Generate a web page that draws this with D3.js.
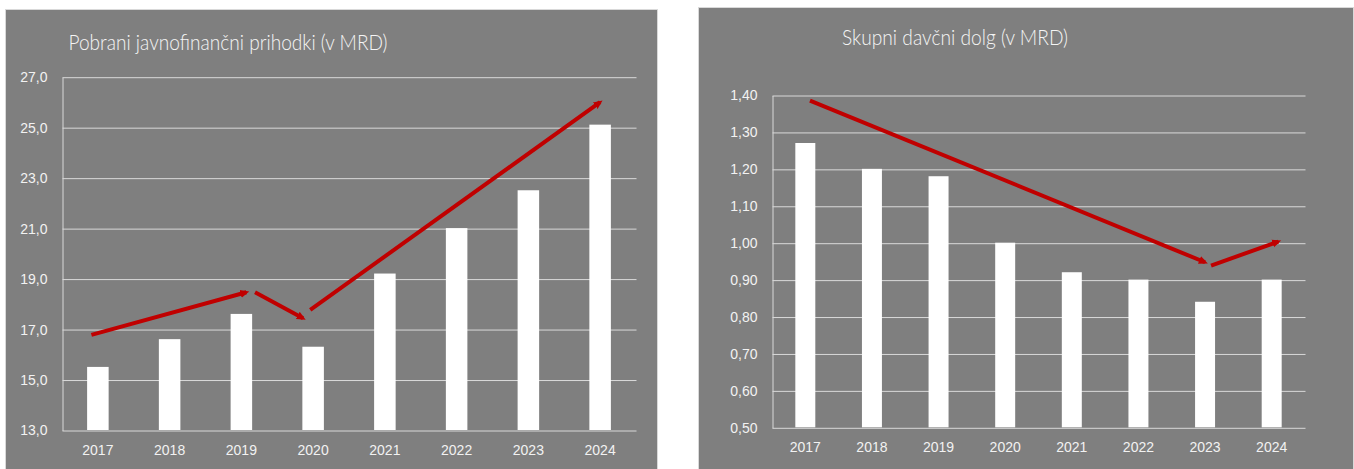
<!DOCTYPE html>
<html>
<head>
<meta charset="utf-8">
<script src="https://cdn.jsdelivr.net/npm/d3@7"></script>
<style>
  body { margin: 0; background: #fff; }
  svg { display: block; font-family: Lato, "Open Sans", sans-serif; }
</style>
</head>
<body>
<script>
// categories and values
const years = ['2017', '2018', '2019', '2020', '2021', '2022', '2023', '2024'];
const revenue = [15.5, 16.6, 17.6, 16.3, 19.2, 21.0, 22.5, 25.1];
const debt = [1.27, 1.20, 1.18, 1.00, 0.92, 0.90, 0.84, 0.90];

const revenueTicks = [13, 15, 17, 19, 21, 23, 25, 27];
const debtTicks = [0.5, 0.6, 0.7, 0.8, 0.9, 1.0, 1.1, 1.2, 1.3, 1.4];

// hand drawn trend arrows: [from index, from value, to index, to value, arrowhead]
const revenueTrend = [
  [-0.09, 16.77, 2.07, 18.46, true],
  [2.19, 18.46, 2.86, 17.43, true],
  [2.96, 17.76, 7.0, 25.99, true]
];
const debtTrend = [
  [0.07, 1.385, 6.0, 0.947, true],
  [6.09, 0.938, 7.1, 1.003, true]
];

const locale = d3.formatLocale({ decimal: ',', thousands: '.', grouping: [3], currency: ['', '€'] });

const svg = d3.select('body')
  .append('svg')
  .attr('width', 1354)
  .attr('height', 469);

const defs = svg.append('defs');
defs.append('marker')
  .attr('id', 'head')
  .attr('viewBox', '0 0 10 10')
  .attr('refX', 6)
  .attr('refY', 5)
  .attr('markerUnits', 'userSpaceOnUse')
  .attr('markerWidth', 10)
  .attr('markerHeight', 10)
  .attr('orient', 'auto')
  .append('path')
  .attr('d', 'M0,1 L9,5 L0,9 Z')
  .attr('fill', '#c00000');

function drawPanel(cfg) {
  const g = svg.append('g');

  g.append('rect')
    .attr('x', cfg.box[0] + 0.5)
    .attr('y', cfg.box[1] + 0.5)
    .attr('width', cfg.box[2])
    .attr('height', cfg.box[3])
    .attr('fill', '#7f7f7f')
    .attr('stroke', '#d9d9d9');

  // Calibri Light is narrow, so squeeze a taller font to the same width
  g.append('text')
    .attr('x', cfg.titleX)
    .attr('y', cfg.titleY)
    .attr('text-anchor', 'middle')
    .attr('fill', '#f5f5f5')
    .attr('textLength', cfg.titleW)
    .attr('lengthAdjust', 'spacingAndGlyphs')
    .style('font-size', '22px')
    .style('font-weight', 300)
    .text(cfg.title);

  const x = d3.scaleBand()
    .domain(years)
    .range([cfg.left, cfg.right])
    .paddingInner(0.7)
    .paddingOuter(0.35);

  // continuous position for the trend arrows (index 0 = centre of first band)
  const xi = d3.scaleLinear()
    .domain([-0.5, years.length - 0.5])
    .range([cfg.left, cfg.right]);

  const y = d3.scaleLinear()
    .domain(cfg.domain)
    .range([cfg.bottom, cfg.top]);

  const yAxis = g.append('g')
    .attr('transform', `translate(${cfg.left + 0.5},0.5)`)
    .call(d3.axisLeft(y)
      .tickValues(cfg.ticks)
      .tickSize(-(cfg.right - cfg.left))
      .tickSizeOuter(0)
      .tickPadding(15)
      .tickFormat(locale.format(cfg.fmt)));

  yAxis.select('.domain').attr('stroke', '#d9d9d9');
  yAxis.selectAll('.tick line').attr('stroke', '#d9d9d9');
  yAxis.selectAll('.tick text')
    .attr('fill', '#f2f2f2')
    .style('font-size', '14px');

  g.selectAll('.bar')
    .data(cfg.values)
    .enter()
    .append('rect')
    .attr('class', 'bar')
    .attr('x', (d, i) => x(years[i]))
    .attr('y', d => y(d))
    .attr('width', x.bandwidth())
    .attr('height', d => cfg.bottom - y(d))
    .attr('fill', '#ffffff');

  const xAxis = g.append('g')
    .attr('transform', `translate(0,${cfg.bottom})`)
    .call(d3.axisBottom(x).tickSize(0).tickPadding(15));

  xAxis.select('.domain').remove();
  xAxis.selectAll('.tick text')
    .attr('fill', '#f2f2f2')
    .style('font-size', '14px');

  g.selectAll('.trend')
    .data(cfg.trend)
    .enter()
    .append('line')
    .attr('class', 'trend')
    .attr('x1', d => xi(d[0]))
    .attr('y1', d => y(d[1]))
    .attr('x2', d => xi(d[2]))
    .attr('y2', d => y(d[3]))
    .attr('stroke', '#c00000')
    .attr('stroke-width', 4)
    .attr('marker-end', d => d[4] ? 'url(#head)' : null);
}

drawPanel({
  box: [5, 9, 652, 470],
  title: 'Pobrani javnofinančni prihodki (v MRD)',
  titleX: 228,
  titleY: 50,
  titleW: 319,
  left: 62, right: 636, top: 76.7, bottom: 430,
  domain: [13, 27],
  ticks: revenueTicks,
  fmt: '.1f',
  values: revenue,
  trend: revenueTrend
});

drawPanel({
  box: [698, 7, 655, 470],
  title: 'Skupni davčni dolg (v MRD)',
  titleX: 955,
  titleY: 45,
  titleW: 226,
  left: 772, right: 1305, top: 95, bottom: 427.3,
  domain: [0.5, 1.4],
  ticks: debtTicks,
  fmt: '.2f',
  values: debt,
  trend: debtTrend
});
</script>
</body>
</html>
